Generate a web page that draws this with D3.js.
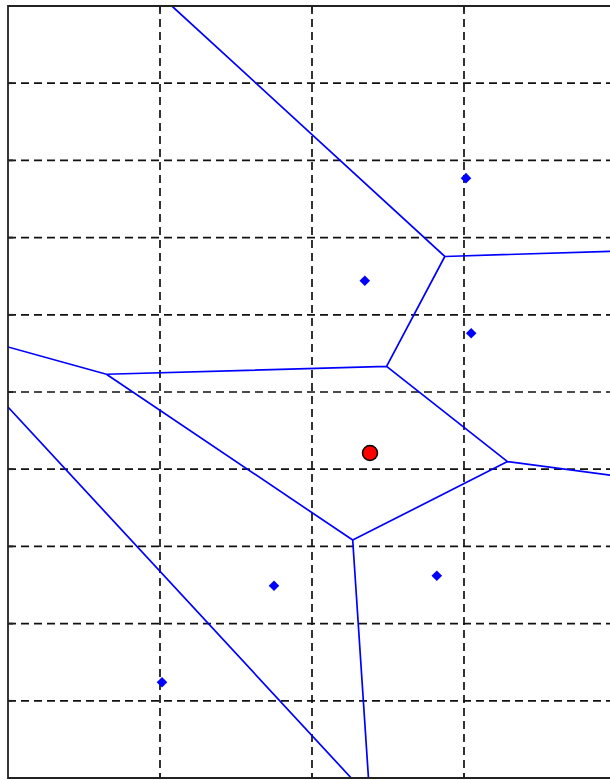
<!DOCTYPE html>
<html>
<head>
<meta charset="utf-8">
<script src="https://cdn.jsdelivr.net/npm/d3@7"></script>
<style>
  html, body { margin: 0; padding: 0; background: #fff; }
  svg { display: block; }
</style>
</head>
<body>
<svg id="chart" width="610" height="780"></svg>
<script>
// Generator sites of the Voronoi diagram (blue) and the query site (red)
const siteX = [0.5725, 0.446, 0.579, 0.3325, 0.536, 0.1925];
const siteY = [0.777, 0.644, 0.576, 0.249, 0.262, 0.124];
const queryX = [0.4525];
const queryY = [0.421];

// Grid / tick positions
const xTicks = [0, 0.19, 0.38, 0.57, 0.76];
const yTicks = [0, 0.1, 0.2, 0.3, 0.4, 0.5, 0.6, 0.7, 0.8, 0.9, 1.0];

const svg = d3.select("#chart");
const plotL = 8, plotT = 6, plotR = 616, plotB = 778;

const x = d3.scaleLinear().domain([0, 0.76]).range([plotL, plotR]);
const y = d3.scaleLinear().domain([0, 1]).range([plotB, plotT]);

svg.append("defs").append("clipPath").attr("id", "plot")
  .append("rect").attr("x", plotL).attr("y", plotT)
  .attr("width", plotR - plotL).attr("height", plotB - plotT);

const plot = svg.append("g").attr("clip-path", "url(#plot)");

// Dashed grid
plot.append("g").selectAll("line").data(xTicks.slice(1, -1)).join("line")
  .attr("x1", d => x(d)).attr("x2", d => x(d))
  .attr("y1", plotT).attr("y2", plotB)
  .attr("stroke", "#111").attr("stroke-width", 1.7)
  .attr("stroke-dasharray", "8,5");
plot.append("g").selectAll("line").data(yTicks.slice(1, -1)).join("line")
  .attr("y1", d => y(d)).attr("y2", d => y(d))
  .attr("x1", plotL).attr("x2", plotR)
  .attr("stroke", "#111").attr("stroke-width", 1.7)
  .attr("stroke-dasharray", "8,5");

// Voronoi edges of all sites (blue + query), computed in data space
// and drawn through the scales
const sites = siteX.map((v, i) => [v, siteY[i]]).concat(queryX.map((v, i) => [v, queryY[i]]));
const delaunay = d3.Delaunay.from(sites);
const voronoi = delaunay.voronoi([x.domain()[0], y.domain()[0], x.domain()[1], y.domain()[1]]);
const edgePath = d3.path();
voronoi.render({
  moveTo: (a, b) => edgePath.moveTo(x(a), y(b)),
  lineTo: (a, b) => edgePath.lineTo(x(a), y(b)),
  closePath: () => edgePath.closePath()
});
plot.append("path")
  .attr("d", edgePath.toString())
  .attr("fill", "none")
  .attr("stroke", "#0000ff")
  .attr("stroke-width", 1.7);

// Sites
plot.append("g").selectAll("path").data(siteX.map((v, i) => [v, siteY[i]])).join("path")
  .attr("d", d3.symbol().type(d3.symbolSquare).size(56))
  .attr("transform", d => `translate(${x(d[0])},${y(d[1])}) rotate(45)`)
  .attr("fill", "#0000ff");

// Query site
plot.append("g").selectAll("circle").data(queryX.map((v, i) => [v, queryY[i]])).join("circle")
  .attr("cx", d => x(d[0])).attr("cy", d => y(d[1]))
  .attr("r", 7.5)
  .attr("fill", "#ff0000").attr("stroke", "#000").attr("stroke-width", 1.5);

// Axes box with inward ticks
const frame = svg.append("g").attr("stroke", "#222").attr("stroke-width", 1.8).attr("fill", "none");
frame.append("path").attr("d", `M${plotR},${plotT}H${plotL}V${plotB}H${plotR}`);
frame.selectAll("line.yt").data(yTicks.slice(1, -1)).join("line").attr("class", "yt")
  .attr("x1", plotL).attr("x2", plotL + 5).attr("y1", d => y(d)).attr("y2", d => y(d));
frame.selectAll("line.xt").data(xTicks.slice(1, -1)).join("line").attr("class", "xt")
  .attr("x1", d => x(d)).attr("x2", d => x(d)).attr("y1", plotT).attr("y2", plotT + 5);
frame.selectAll("line.xb").data(xTicks.slice(1, -1)).join("line").attr("class", "xb")
  .attr("x1", d => x(d)).attr("x2", d => x(d)).attr("y1", plotB).attr("y2", plotB - 5);
</script>
</body>
</html>
